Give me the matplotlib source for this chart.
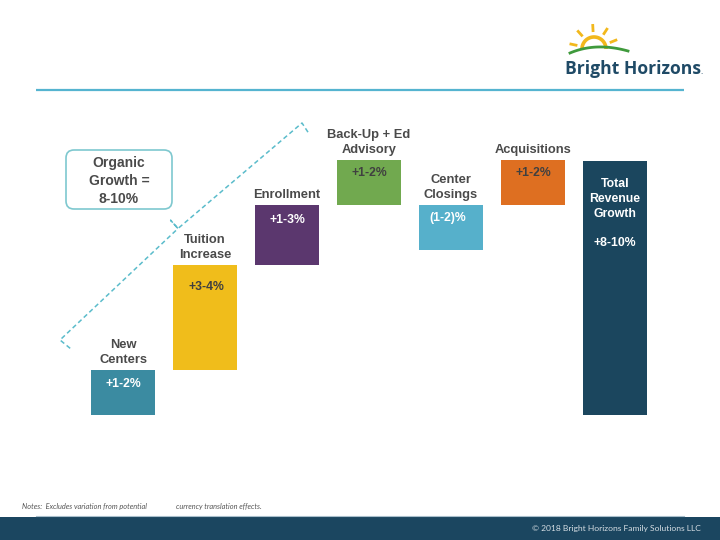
import numpy as np
import matplotlib
matplotlib.use("Agg")
import matplotlib.pyplot as plt
from matplotlib.patches import FancyBboxPatch, Rectangle

# ---------------- data ----------------
categories = ["New\nCenters", "Tuition\nIncrease", "Enrollment", "Back-Up + Ed\nAdvisory",
              "Center\nClosings", "Acquisitions", ""]
bottoms = [0.0, 1.5, 5.0, 7.0, 5.5, 7.0, 0.0]
heights = [1.5, 3.5, 2.0, 1.5, 1.5, 1.5, 8.47]
value_labels = ["+1-2%", "+3-4%", "+1-3%", "+1-2%", "(1-2)%", "+1-2%", "+8-10%"]
total_title = "Total\nRevenue\nGrowth"
colors = ["#3b8ba1", "#f0bd1b", "#5b376e", "#71a94f", "#56b0cb", "#de6f21", "#1b465e"]
value_colors = ["white", "#404040", "white", "#404040", "white", "#404040", "white"]
value_offsets = [0.47, 0.73, 0.5, 0.43, 0.43, 0.43, 2.73]
value_dx = [0.0, 0.02, 0.0, 0.0, -0.04, 0.0, 0.0]
# --------------------------------------

fig = plt.figure(figsize=(7.2, 5.4), dpi=100)
fig.patch.set_facecolor("white")

ax = fig.add_axes([0, 0, 1, 1])
ax.set_xlim(-123/82, (720-123)/82)
ax.set_ylim((415-540)/30, 415/30)
ax.axis("off")

FONT = "Liberation Sans"
x = np.arange(len(categories))
ax.bar(x, heights, bottom=bottoms, width=0.79, color=colors, zorder=2)

for i in range(len(categories)):
    top = bottoms[i] + heights[i]
    if categories[i]:
        ax.text(x[i], top + 0.13, categories[i], ha="center", va="bottom",
                fontsize=9.3, fontweight="bold", color="#4a4a4a", family=FONT,
                linespacing=1.3)
    ax.text(x[i] + value_dx[i], top - value_offsets[i], value_labels[i],
            ha="center", va="center", fontsize=8.8, fontweight="bold",
            color=value_colors[i], family=FONT, zorder=3)

ax.text(x[6], bottoms[6] + heights[6] - 1.27, total_title, ha="center", va="center",
        fontsize=8.8, fontweight="bold", color="white", family=FONT, linespacing=1.3, zorder=3)

# overlay axes in pixel coordinates for decoration
ov = fig.add_axes([0, 0, 1, 1], facecolor="none")
ov.set_xlim(0, 720)
ov.set_ylim(540, 0)
ov.axis("off")

# header line
ov.plot([36, 684], [89.5, 89.5], color="#55b4d0", lw=1.6, solid_capstyle="butt")

# footer band
ov.add_patch(Rectangle((0, 516.5), 720, 24, color="#1b4660", lw=0))
ov.plot([36, 684], [516, 516], color="#a9bfcc", lw=0.8)
ov.text(616, 528, "© 2018 Bright Horizons Family Solutions LLC", ha="center", va="center",
        fontsize=6.1, color="#d5dde3", family="Lato")
ov.text(22, 507, "Notes:  Excludes variation from potential", ha="left", va="center",
        fontsize=5.3, color="#555555", style="italic", family="Lato")
ov.text(176, 507, "currency translation effects.", ha="left", va="center",
        fontsize=5.3, color="#555555", style="italic", family="Lato")

# organic growth box
ov.add_patch(FancyBboxPatch((66, 150), 106, 59, boxstyle="round,pad=0,rounding_size=8",
                            facecolor="white", edgecolor="#7ec8cf", lw=1.2))
ov.text(119, 181, "Organic\nGrowth =\n8-10%", ha="center", va="center", fontsize=10,
        fontweight="bold", color="#4a4a4a", family=FONT, linespacing=1.35)

# brace (dashed)
p0 = np.array([60.0, 340.0]); p1 = np.array([302.0, 123.0])
d = (p1 - p0) / np.linalg.norm(p1 - p0)
perp = np.array([-d[1], d[0]]) if -d[1] * 0 + d[0] > 0 and np.array([-d[1], d[0]])[1] > 0 else np.array([d[1], -d[0]])
mid = (p0 + p1) / 2 - 3
pts = np.array([p0 + perp * 13 + d * 2, p0, mid, mid - perp * 11, mid, p1, p1 + perp * 13 - d * 2])
ov.plot(pts[:, 0], pts[:, 1], color="#5bbccb", lw=1.1, ls=(0, (3, 2)))

# logo: sun
cx, cy = 594, 49
t = np.linspace(0, np.pi, 60)
ov.plot(cx + 12 * np.cos(t), cy - 12 * np.sin(t), color="#f2b81c", lw=2.6, solid_capstyle="butt")
for ang in [168, 132, 93, 57, 22]:
    a = np.deg2rad(ang)
    ov.plot([cx + 17 * np.cos(a), cx + 25 * np.cos(a)], [cy - 17 * np.sin(a), cy - 25 * np.sin(a)],
            color="#f2b81c", lw=2.0, solid_capstyle="butt")
ov.add_patch(Rectangle((575, 49), 40, 6, color="white", lw=0, zorder=1))
s = np.linspace(0, 1, 60)
hx = (1 - s) ** 2 * 570 + 2 * (1 - s) * s * 596 + s ** 2 * 628
hy = (1 - s) ** 2 * 53 + 2 * (1 - s) * s * 42 + s ** 2 * 51
ov.plot(hx, hy, color="#3f9a3c", lw=2.0, zorder=2)
ov.text(565, 74, "Bright Horizons", ha="left", va="baseline", fontsize=12.6,
        fontweight="bold", color="#1f4a66", family="Open Sans")
ov.text(700, 74, ".", ha="left", va="baseline", fontsize=6,
        color="#1f4a66", family="Open Sans")

fig.savefig("out.png", dpi=100)
